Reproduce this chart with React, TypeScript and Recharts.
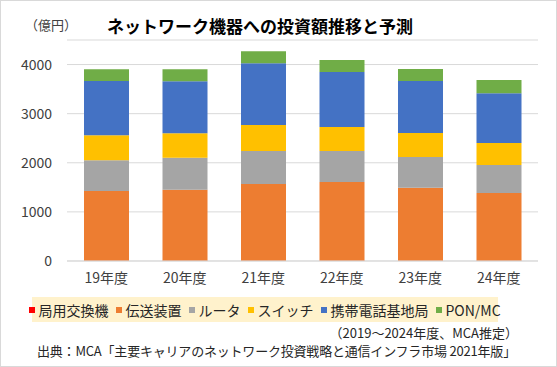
import React from 'react';
import { BarChart, Bar, XAxis, YAxis, CartesianGrid } from 'recharts';

const years = ['19年度', '20年度', '21年度', '22年度', '23年度', '24年度'];

// 億円, read from the stacked segments
const exchange = [3, 3, 3, 3, 3, 3];
const transport = [1420, 1450, 1565, 1605, 1490, 1380];
const router = [630, 650, 670, 630, 625, 570];
const switches = [510, 500, 530, 490, 490, 450];
const mobileBase = [1100, 1057, 1260, 1120, 1055, 1015];
const ponMc = [243, 243, 245, 245, 245, 265];

const yTicks = [0, 1000, 2000, 3000, 4000];

const series = [
  { key: 'exchange', name: '局用交換機', color: '#FF0000', values: exchange },
  { key: 'transport', name: '伝送装置', color: '#ED7D31', values: transport },
  { key: 'router', name: 'ルータ', color: '#A5A5A5', values: router },
  { key: 'switches', name: 'スイッチ', color: '#FFC000', values: switches },
  { key: 'mobileBase', name: '携帯電話基地局', color: '#4472C4', values: mobileBase },
  { key: 'ponMc', name: 'PON/MC', color: '#70AD47', values: ponMc },
];

const chartData = years.map((year, i) => {
  const row: Record<string, any> = { year };
  series.forEach((s) => {
    row[s.key] = s.values[i];
  });
  return row;
});

const font = '"Noto Sans CJK JP", "Noto Sans", sans-serif';

export default function App() {
  return (
    <div
      style={{
        position: 'absolute',
        left: 0,
        top: 0,
        width: 557,
        height: 367,
        boxSizing: 'border-box',
        border: '1px solid #D9D9D9',
        background: '#fff',
        fontFamily: font,
        color: '#404040',
      }}
    >
      <div style={{ position: 'absolute', left: 24, top: 14, fontSize: 13, lineHeight: '20px' }}>
        （億円）
      </div>
      <div
        style={{
          position: 'absolute',
          left: 0,
          width: 518,
          top: 12,
          textAlign: 'center',
          fontSize: 17,
          fontWeight: 'bold',
          lineHeight: '26px',
          color: '#000',
        }}
      >
        ネットワーク機器への投資額推移と予測
      </div>

      <div style={{ position: 'absolute', left: -1, top: -1 }}>
        <BarChart
          width={557}
          height={367}
          data={chartData}
          margin={{ top: 40, right: 19, left: 7, bottom: 76 }}
          barSize={45}
        >
          <CartesianGrid vertical={false} stroke="#D9D9D9" />
          <XAxis
            dataKey="year"
            height={30}
            tickLine={false}
            axisLine={{ stroke: '#D9D9D9' }}
            tick={{ fill: '#404040', fontSize: 14, fontFamily: font }}
            tickMargin={6}
          />
          <YAxis
            width={60}
            domain={[0, 4500]}
            ticks={yTicks}
            tickLine={false}
            axisLine={false}
            tickSize={0}
            tickMargin={15}
            tick={{ fill: '#404040', fontSize: 14, fontFamily: font }}
          />
          {series.map((s) => (
            <Bar
              key={s.key}
              dataKey={s.key}
              name={s.name}
              stackId="total"
              fill={s.color}
              isAnimationActive={false}
            />
          ))}
        </BarChart>
      </div>

      <div
        style={{
          position: 'absolute',
          left: 31,
          top: 296,
          width: 466,
          height: 25,
          background: '#FFF2CC',
          display: 'flex',
          alignItems: 'center',
          justifyContent: 'center',
          gap: 8,
          fontSize: 14,
          color: '#262626',
          whiteSpace: 'nowrap',
        }}
      >
        {series.map((s) => (
          <div key={s.key} style={{ display: 'flex', alignItems: 'center', gap: 3, flexShrink: 0 }}>
            <span style={{ width: 6, height: 6, background: s.color, display: 'inline-block' }} />
            <span>{s.name}</span>
          </div>
        ))}
      </div>

      <div
        style={{
          position: 'absolute',
          right: 38,
          top: 323,
          fontSize: 13,
          lineHeight: '18px',
          color: '#262626',
          whiteSpace: 'nowrap',
        }}
      >
        （2019～2024年度、MCA推定）
      </div>
      <div
        style={{
          position: 'absolute',
          left: 36,
          top: 341,
          fontSize: 13,
          lineHeight: '18px',
          letterSpacing: -0.2,
          color: '#262626',
          whiteSpace: 'nowrap',
        }}
      >
        出典：MCA「主要キャリアのネットワーク投資戦略と通信インフラ市場 2021年版」
      </div>
    </div>
  );
}
